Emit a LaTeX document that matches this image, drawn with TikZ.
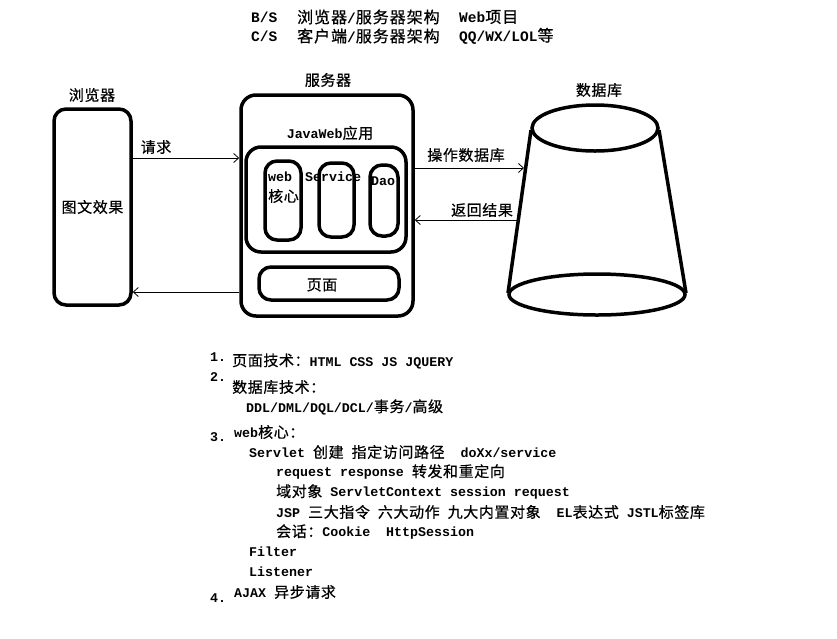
\documentclass[tikz,border=0pt]{standalone}
\usepackage{fontspec}
\setmainfont{Liberation Mono}
\newfontfamily\cjk{Noto Sans CJK SC}[FakeBold=0.6,LetterSpace=4]
\newfontfamily\cjkh{Noto Sans CJK SC}[FakeBold=0.6,LetterSpace=6]
\newcommand\zh[1]{{\cjk\mdseries\fontsize{15}{16}\selectfont #1}}
\newcommand\zhH[1]{{\cjkh\mdseries\fontsize{16}{17}\selectfont #1}}
\usetikzlibrary{arrows.meta}
\begin{document}
\begin{tikzpicture}[x=1pt,y=-1pt,
  box/.style={draw,line width=3.5pt,rounded corners=12pt,inner sep=0pt},
  txt/.style={inner sep=0pt,font=\fontsize{13.3}{16}\selectfont\bfseries},
  ltxt/.style={txt,anchor=west},
  htxt/.style={inner sep=0pt,anchor=west,font=\fontsize{14.5}{17}\selectfont\bfseries},
  conn/.style={line width=0.8pt,-{Straight Barb[length=5pt,width=9pt]}}]
\useasboundingbox (0,0) rectangle (837,638);
% header
\node[htxt] (h1a) at (251,17) {B/S};
\node[htxt] (h1b) at (297,17) {\zhH{浏览器}/\zhH{服务器架构}};
\node[htxt] (h1c) at (459,17) {Web\zhH{项目}};
\node[htxt] (h2a) at (251,36) {C/S};
\node[htxt] (h2b) at (297,36) {\zhH{客户端}/\zhH{服务器架构}};
\node[htxt] (h2c) at (459,36) {QQ/WX/LOL\zhH{等}};
% browser
\node[box,minimum width=77pt,minimum height=196pt] (browser) at (92.5,207) {};
\node[txt] (browserlbl) at (92,95) {\zh{浏览器}};
\node[txt] (browsertxt) at (92.5,207) {\zh{图文效果}};
% server
\node[box,rounded corners=15pt,minimum width=172pt,minimum height=221pt] (server) at (327,205.5) {};
\node[txt] (serverlbl) at (328,80) {\zh{服务器}};
\node[txt] (jwlbl) at (330,133) {JavaWeb\zh{应用}};
\node[box,rounded corners=15pt,minimum width=160pt,minimum height=105pt] (jw) at (326,199.5) {};
\node[box,minimum width=36pt,minimum height=79pt] (web) at (283,200.5) {};
\node[box,minimum width=35pt,minimum height=74pt] (service) at (336.5,200) {};
\node[box,minimum width=28pt,minimum height=71pt] (dao) at (384,200.5) {};
\node[ltxt] (webt) at (268,177) {web};
\node[ltxt] (webt2) at (268,196) {\zh{核心}};
\node[ltxt] (servicet) at (305,177) {Service};
\node[ltxt] (daot) at (371,181) {Dao};
\node[box,minimum width=140pt,minimum height=33pt] (page) at (329,283.5) {};
\node[txt] (paget) at (322,285) {\zh{页面}};
% database
\draw[line width=3.5pt] (595,128) ellipse [x radius=63, y radius=23];
\draw[line width=3.5pt] (597,294.5) ellipse [x radius=88, y radius=20.5];
\draw[line width=3.5pt] (531,130) -- (508,293);
\draw[line width=3.5pt] (659,130) -- (686,293);
\node[txt] (dblbl) at (599,90) {\zh{数据库}};
\coordinate (dbA) at (524,168);
\coordinate (dbB) at (517,220);
% connectors
\draw[conn] (browser.east |- 0,158) -- (server.west |- 0,158);
\node[txt] (reqlbl) at (156,147) {\zh{请求}};
\draw[conn] (server.west |- 0,292) -- (browser.east |- 0,292);
\draw[conn] (server.east |- dbA) -- (dbA);
\node[txt] (oplbl) at (466,155) {\zh{操作数据库}};
\draw[conn] (dbB) -- (server.east |- dbB);
\node[txt] (retlbl) at (482,210) {\zh{返回结果}};
% list
\node[ltxt] (n1) at (210,357) {1.};
\node[ltxt] (l1) at (232,361) {\zh{页面技术：}HTML CSS JS JQUERY};
\node[ltxt] (n2) at (210,377) {2.};
\node[ltxt] (l2) at (232,387) {\zh{数据库技术：}};
\node[ltxt] (l2a) at (246,407) {DDL/DML/DQL/DCL/\zh{事务}/\zh{高级}};
\node[ltxt] (n3) at (210,437) {3.};
\node[ltxt] (l3) at (234,432) {web\zh{核心：}};
\node[ltxt] (l3a) at (249,452) {Servlet \zh{创建} \zh{指定访问路径}\ \ doXx/service};
\node[ltxt] (l3b) at (276,472) {request response \zh{转发和重定向}};
\node[ltxt] (l3c) at (276,492) {\zh{域对象} ServletContext session request};
\node[ltxt] (l3d) at (276,512) {JSP \zh{三大指令} \zh{六大动作} \zh{九大内置对象}\ \ EL\zh{表达式} JSTL\zh{标签库}};
\node[ltxt] (l3e) at (276,532) {\zh{会话：}Cookie\ \ HttpSession};
\node[ltxt] (l3f) at (249,552) {Filter};
\node[ltxt] (l3g) at (249,572) {Listener};
\node[ltxt] (n4) at (210,598) {4.};
\node[ltxt] (l4) at (234,592) {AJAX \zh{异步请求}};
\end{tikzpicture}
\end{document}
